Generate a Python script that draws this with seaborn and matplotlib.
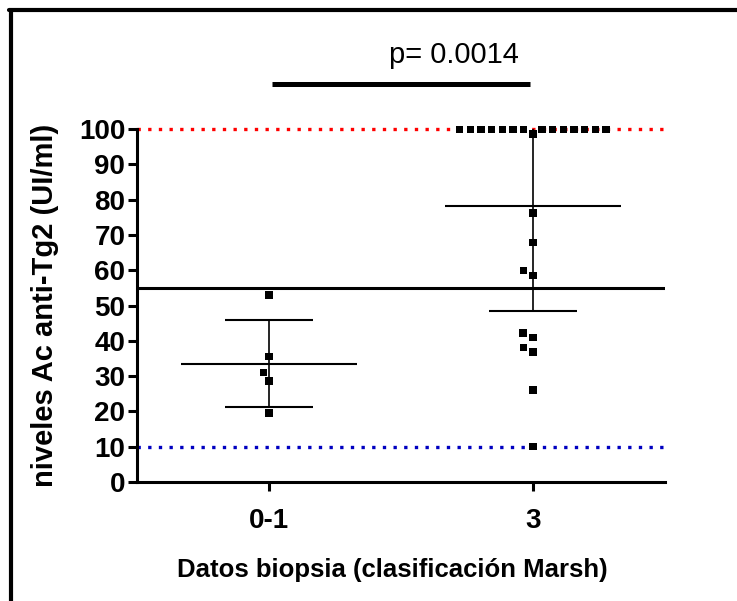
import numpy as np
import pandas as pd
import matplotlib
matplotlib.use("Agg")
import matplotlib.pyplot as plt
import seaborn as sns
from matplotlib.lines import Line2D

# ---- data ----
groups = ["0-1", "3"]
values_01 = [53.0, 35.5, 31.1, 28.6, 19.6]
values_3 = [100, 100, 100, 100, 100, 100, 100, 100, 100, 100, 100, 100, 100, 100,
            98.6, 76.2, 67.8, 60.0, 58.6, 42.2, 41.0, 38.2, 36.9, 26.1, 10.0]
cutoff = 55
upper_ref = 100
lower_ref = 10
y_ticks = [0, 10, 20, 30, 40, 50, 60, 70, 80, 90, 100]
p_label = "p= 0.0014"
x_title = "Datos biopsia (clasificación Marsh)"
y_title = "niveles Ac anti-Tg2 (UI/ml)"

df = pd.DataFrame({
    "grupo": [groups[0]] * len(values_01) + [groups[1]] * len(values_3),
    "valor": values_01 + values_3,
})

sns.set_theme(style="white")
plt.rcParams["font.family"] = ["Liberation Sans", "DejaVu Sans"]
for k in ["text.color", "axes.labelcolor", "xtick.color", "ytick.color"]:
    plt.rcParams[k] = "black"

fig = plt.figure(figsize=(7.37, 6.01), dpi=100)
ax = fig.add_axes([0.186, 0.198, 0.716, 0.587])

# reference lines
ax.axhline(upper_ref, color="#ff0000", lw=2.4, ls=(0, (1, 2.2)), clip_on=False, zorder=1)
ax.axhline(lower_ref, color="#0000c0", lw=2.4, ls=(0, (1, 2.2)), clip_on=False, zorder=1)
ax.axhline(cutoff, color="black", lw=2.2, zorder=2)

sns.swarmplot(data=df, x="grupo", y="valor", order=groups, marker="s", size=5.3,
              color="black", linewidth=2, edgecolor="none", ax=ax, zorder=4)
for coll in ax.collections:
    coll.set_clip_on(False)
    coll.set_edgecolor("none")
    coll.set_linewidth(2)

# mean +/- SD
for i, g in enumerate(groups):
    v = np.asarray(df.loc[df["grupo"] == g, "valor"], dtype=float)
    m, sd = v.mean(), v.std(ddof=1)
    ax.hlines(m, i - 0.333, i + 0.333, color="black", lw=1.5, zorder=3)
    ax.vlines(i, m - sd, m + sd, color="black", lw=1.2, zorder=3)
    ax.hlines([m - sd, m + sd], i - 0.167, i + 0.167, color="black", lw=1.5, zorder=3)

ax.set_xlim(-0.5, 1.5)
ax.set_ylim(0, 100)
ax.set_yticks(y_ticks)
sns.despine(ax=ax)
for s in ["left", "bottom"]:
    ax.spines[s].set_linewidth(2.2)
    ax.spines[s].set_color("black")
ax.tick_params(axis="both", direction="out", length=6.5, width=2.2, color="black",
               labelsize=20, pad=2, left=True, bottom=True)
for lab in ax.get_xticklabels() + ax.get_yticklabels():
    lab.set_fontweight("bold")
ax.tick_params(axis="x", pad=12)
ax.set_xlabel(x_title, fontsize=18.5, fontweight="bold", labelpad=16)
ax.xaxis.set_label_coords(0.483, -0.215)
ax.set_ylabel(y_title, fontsize=21, fontweight="bold", labelpad=14)

# significance bar
ax.plot([0.01, 0.99], [112.7, 112.7], color="black", lw=3.6, clip_on=False,
        solid_capstyle="butt")
ax.text(0.70, 121, p_label, ha="center", va="center", fontsize=21, clip_on=False)

# frame lines (top and left) of the original figure
fig.add_artist(Line2D([11 / 737, 11 / 737], [0, 1 - 10 / 601], color="black", lw=3,
                      transform=fig.transFigure))
fig.add_artist(Line2D([9 / 737, 1], [1 - 10 / 601, 1 - 10 / 601], color="black", lw=3,
                      transform=fig.transFigure))

fig.savefig("out.png", dpi=100, facecolor="white")
